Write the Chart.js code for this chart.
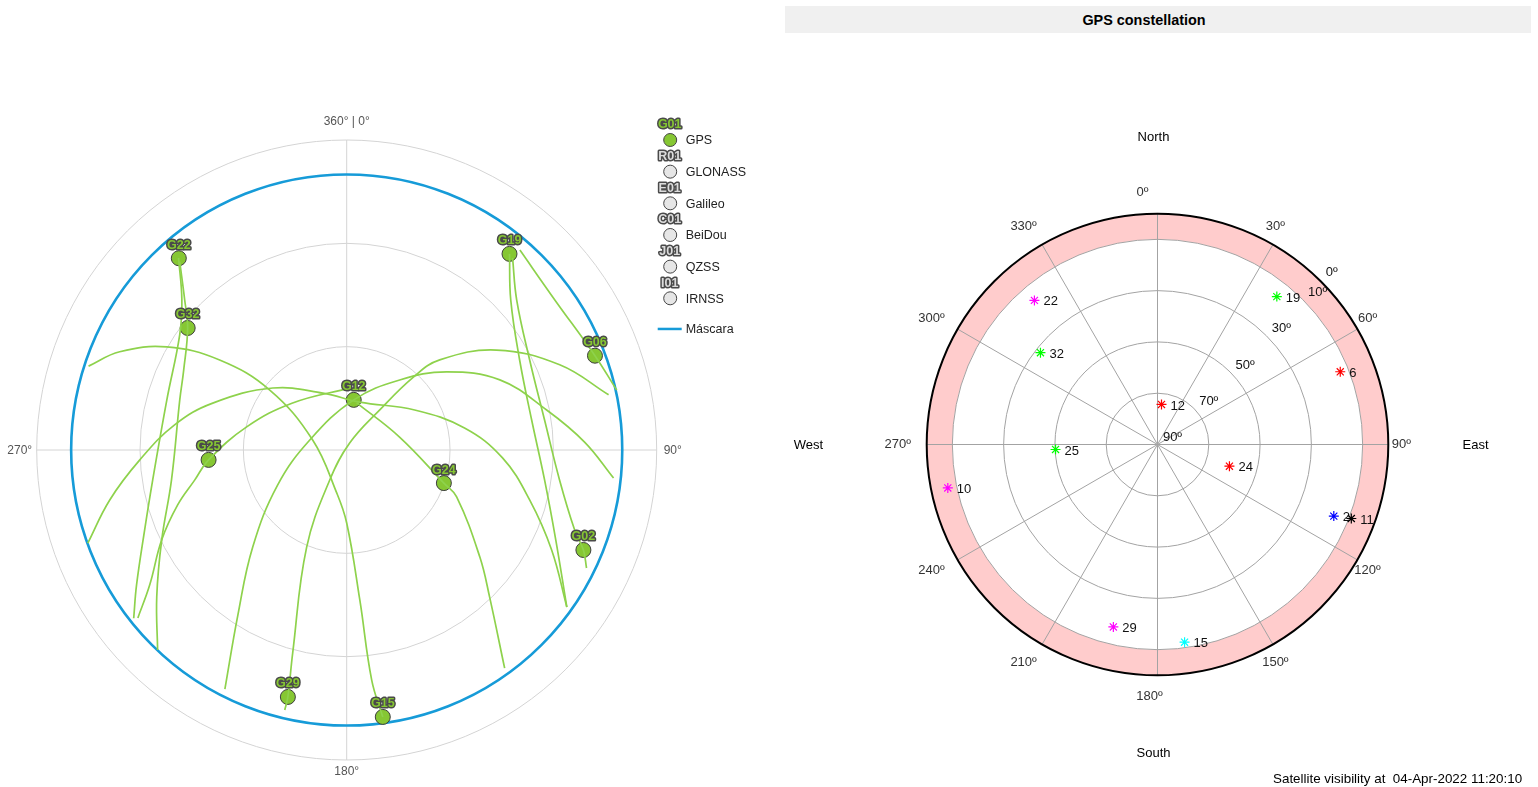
<!DOCTYPE html>
<html>
<head>
<meta charset="utf-8">
<script src="https://cdn.jsdelivr.net/npm/chart.js@4/dist/chart.umd.min.js"></script>
<style>
  html, body { margin: 0; padding: 0; background: #fff; width: 1538px; height: 787px; overflow: hidden;
    font-family: "Liberation Sans", Arial, sans-serif; }
  #skyWrap { position: absolute; left: 0; top: 0; width: 780px; height: 787px; }
  #constWrap { position: absolute; left: 780px; top: 0; width: 758px; height: 787px; }
  #constTitle { position: absolute; left: 785px; top: 6px; width: 718px; padding-right: 28px; height: 27px;
    background: #f0f0f0; font-weight: bold; font-size: 14.4px; line-height: 29px; text-align: center; color: #000; }
  #stamp { position: absolute; left: 1273px; top: 771px; font-size: 13.4px; color: #000; white-space: pre; }
</style>
</head>
<body>
<div id="skyWrap"><canvas id="sky" width="780" height="787"></canvas></div>
<div id="constWrap"><canvas id="constellation" width="758" height="787"></canvas></div>
<div id="constTitle">GPS constellation</div>
<div id="stamp">Satellite visibility at  04-Apr-2022 11:20:10</div>
<script>
// ---------- sky plot (left): current positions, azimuth / elevation in degrees ----------
const skyPrn = ['G22', 'G32', 'G12', 'G25', 'G24', 'G19', 'G06', 'G02', 'G29', 'G15'];
const skyAz  = [318.8, 307.5, 8.0, 265.9, 108.8, 39.7, 69.2, 112.9, 193.4, 172.3];
const skyEl  = [16.0, 31.8, 75.3, 49.8, 60.2, 16.0, 12.9, 15.4, 16.3, 11.8];

// satellite tracks over the visibility window (azimuth / elevation)
const trackG22Az = [318.8, 312.3, 304.6, 285.5, 261.2, 248.4, 237.3, 231.7];
const trackG22El = [15.9, 25.3, 31.1, 35.8, 33.0, 26.9, 17.5, 11.2];
const trackG32Az = [318.4, 312.8, 307.5, 296.1, 286.7, 260.3, 244.1, 232.3, 223.4];
const trackG32El = [17.0, 25.9, 31.8, 37.3, 39.4, 38.4, 30.3, 20.3, 10.1];
const trackG15Az = [288.0, 293.4, 299.8, 305.3, 307.9, 286.4, 193.1, 180.0, 175.0, 173.8, 172.3];
const trackG15El = [11.2, 18.2, 29.8, 44.8, 61.7, 79.7, 77.2, 68.8, 46.3, 22.8, 11.8];
const trackG29Az = [78.1, 68.2, 56.3, 45.9, 42.5, 39.5, 23.0, 209.5, 202.4, 194.9, 193.4, 193.4];
const trackG29El = [12.3, 23.4, 37.7, 52.4, 61.2, 74.9, 87.8, 80.0, 59.5, 29.0, 16.3, 12.4];
const trackG12Az = [207.0, 213.4, 224.1, 243.1, 285.1, 8.0, 37.1, 52.0, 65.4, 78.7, 88.1, 96.0];
const trackG12El = [12.1, 32.6, 50.8, 67.5, 78.9, 75.3, 64.5, 53.2, 41.1, 30.8, 20.9, 12.1];
const trackG24Az = [12.0, 76.2, 108.8, 113.1, 128.8, 135.8, 144.1];
const trackG24El = [76.0, 74.2, 60.2, 55.3, 40.4, 30.5, 11.8];
const trackG25Az = [231.2, 235.6, 244.1, 252.0, 258.8, 265.9, 283.0, 311.0, 2.8];
const trackG25El = [12.2, 20.7, 30.3, 38.4, 45.0, 49.8, 60.2, 69.2, 72.0];
const trackRisingAz = [250.2, 258.1, 267.2, 278.3, 289.3, 310.0, 337.2, 15.2, 59.5, 79.4, 92.9, 105.3, 116.0, 125.5];
const trackRisingEl = [10.1, 19.7, 29.8, 39.5, 48.8, 62.0, 72.1, 75.6, 67.1, 55.2, 44.7, 34.9, 23.8, 11.5];
const trackG19Az = [39.7, 47.6, 62.5, 80.8, 98.6, 113.3, 125.5];
const trackG19El = [16.0, 25.5, 33.4, 35.6, 31.9, 23.9, 11.5];
const trackG02Az = [40.8, 48.6, 63.8, 81.4, 98.0, 109.3, 112.9, 116.2];
const trackG02El = [16.3, 24.2, 30.8, 31.9, 27.6, 19.9, 15.4, 12.4];
const trackG06Az = [40.9, 54.2, 69.2, 77.5];
const trackG06El = [13.2, 15.5, 12.9, 9.7];

const maskElevation = 10;
const skyRings = [0, 30, 60];
const skyAxisAz = [0, 90, 180, 270];
const skyAxisText = ['360° | 0°', '90°', '180°', '270°'];

// legend (constellations)
const legendTags  = ['G01', 'R01', 'E01', 'C01', 'J01', 'I01'];
const legendNames = ['GPS', 'GLONASS', 'Galileo', 'BeiDou', 'QZSS', 'IRNSS'];
const maskLegendText = 'Máscara';

// ---------- constellation plot (right) ----------
const constPrn = [12, 19, 6, 24, 2, 11, 15, 29, 10, 25, 32, 22];
const constAz  = [5.7, 38.9, 68.3, 106.8, 112.1, 110.9, 172.2, 193.6, 258.3, 267.2, 308.1, 319.5];
const constEl  = [74.3, 15.9, 13.3, 60.7, 15.8, 9.1, 12.2, 16.8, 6.5, 50.2, 32.0, 16.1];
const constColor = ['#ff0000', '#00ff00', '#ff0000', '#ff0000', '#0000ff', '#000000',
                    '#00ffff', '#ff00ff', '#ff00ff', '#00ff00', '#00ff00', '#ff00ff'];
const constRings = [10, 30, 50, 70];
const constSpokes = [0, 30, 60, 90, 120, 150, 180, 210, 240, 270, 300, 330];
const constElevLabels = [0, 10, 30, 50, 70, 90];
const compassText = ['North', 'East', 'South', 'West'];
const compassAz = [0, 90, 180, 270];

// ---------- helpers ----------
const DEG = Math.PI / 180;
const FONT = '"Liberation Sans", Arial, sans-serif';
function polarPoint(az, el) {
  const r = 90 - el;
  return { x: r * Math.sin(az * DEG), y: r * Math.cos(az * DEG) };
}
function trackPoints(az, el) { return az.map((a, i) => polarPoint(a, el[i])); }
function polarGeom(chart) {
  const sx = chart.scales.x, sy = chart.scales.y;
  const cx = sx.getPixelForValue(0), cy = sy.getPixelForValue(0);
  return { cx, cy, rad: el => sx.getPixelForValue(90 - el) - cx };
}
function drawTag(ctx, text, x, y, fill) {
  ctx.font = 'bold 12.5px ' + FONT;
  ctx.textAlign = 'center';
  ctx.textBaseline = 'middle';
  ctx.lineJoin = 'round';
  ctx.lineWidth = 3;
  ctx.strokeStyle = '#4a4a4a';
  ctx.strokeText(text, x, y);
  ctx.fillStyle = fill;
  ctx.fillText(text, x, y);
}
const polarScales = {
  x: { type: 'linear', min: -90, max: 90, display: false },
  y: { type: 'linear', min: -90, max: 90, display: false }
};

// ---------- left chart ----------
const TRACK_GREEN = '#8ed24c';
const MARK_GREEN = '#86c733';
const tracks = [
  [trackG22Az, trackG22El], [trackG32Az, trackG32El], [trackG15Az, trackG15El],
  [trackG29Az, trackG29El], [trackG12Az, trackG12El], [trackG24Az, trackG24El],
  [trackG25Az, trackG25El], [trackRisingAz, trackRisingEl], [trackG19Az, trackG19El],
  [trackG02Az, trackG02El], [trackG06Az, trackG06El]
];
const skyDatasets = tracks.map(([az, el]) => ({
  data: trackPoints(az, el),
  showLine: true, borderColor: TRACK_GREEN, borderWidth: 1.7, tension: 0.4,
  pointRadius: 0, fill: false
}));
skyDatasets.push({
  data: trackPoints(skyAz, skyEl),
  showLine: false, pointRadius: 7.5, pointBackgroundColor: MARK_GREEN,
  pointBorderColor: '#3d3d3d', pointBorderWidth: 1
});

const skyDecor = {
  id: 'skyDecor',
  beforeDatasetsDraw(chart) {
    const ctx = chart.ctx;
    const { cx, cy, rad } = polarGeom(chart);
    const R = rad(0);
    ctx.save();
    ctx.strokeStyle = '#d4d4d4';
    ctx.lineWidth = 1;
    skyRings.forEach(el => { ctx.beginPath(); ctx.arc(cx, cy, rad(el), 0, 2 * Math.PI); ctx.stroke(); });
    ctx.beginPath();
    ctx.moveTo(cx, cy - R); ctx.lineTo(cx, cy + R);
    ctx.moveTo(cx - R, cy); ctx.lineTo(cx + R, cy);
    ctx.stroke();
    ctx.strokeStyle = '#169bd8';
    ctx.lineWidth = 2.6;
    ctx.beginPath(); ctx.arc(cx, cy, rad(maskElevation), 0, 2 * Math.PI); ctx.stroke();
    ctx.restore();
  },
  afterDatasetsDraw(chart) {
    const ctx = chart.ctx;
    const { cx, cy, rad } = polarGeom(chart);
    const R = rad(0);
    ctx.save();
    // satellite ids above the markers
    const meta = chart.getDatasetMeta(chart.data.datasets.length - 1);
    meta.data.forEach((pt, i) => drawTag(ctx, skyPrn[i], pt.x, pt.y - 13, MARK_GREEN));
    // azimuth labels
    ctx.font = '12px ' + FONT;
    ctx.fillStyle = '#555';
    ctx.textAlign = 'center';
    ctx.textBaseline = 'middle';
    const gap = [19, 16, 11, 17];
    skyAxisAz.forEach((az, i) => {
      const r = R + gap[i];
      ctx.fillText(skyAxisText[i], cx + r * Math.sin(az * DEG), cy - r * Math.cos(az * DEG) + 1);
    });
    // legend
    const lx = cx + R + 13, ly = 140, step = 31.66;
    legendTags.forEach((tag, i) => {
      const y = ly + i * step;
      drawTag(ctx, tag, lx, y - 15, i === 0 ? MARK_GREEN : '#dcdcdc');
      ctx.beginPath();
      ctx.arc(lx + 0.5, y, 6.5, 0, 2 * Math.PI);
      ctx.fillStyle = i === 0 ? MARK_GREEN : '#e6e6e6';
      ctx.fill();
      ctx.lineWidth = 1;
      ctx.strokeStyle = '#444';
      ctx.stroke();
      ctx.font = '12.5px ' + FONT;
      ctx.fillStyle = '#222';
      ctx.textAlign = 'left';
      ctx.textBaseline = 'middle';
      ctx.fillText(legendNames[i], lx + 16, y + 1);
    });
    const my = ly + 6 * step - 1;
    ctx.strokeStyle = '#169bd8';
    ctx.lineWidth = 2.5;
    ctx.beginPath(); ctx.moveTo(lx - 12, my); ctx.lineTo(lx + 12, my); ctx.stroke();
    ctx.fillStyle = '#222';
    ctx.fillText(maskLegendText, lx + 16, my + 1);
    ctx.restore();
  }
};

new Chart(document.getElementById('sky'), {
  type: 'scatter',
  data: { datasets: skyDatasets },
  options: {
    responsive: false, animation: false, devicePixelRatio: 1,
    layout: { padding: { left: 36.7, right: 123.3, top: 140, bottom: 27 } },
    scales: polarScales,
    plugins: { legend: { display: false }, tooltip: { enabled: false } }
  },
  plugins: [skyDecor]
});

// ---------- right chart ----------
const constDecor = {
  id: 'constDecor',
  beforeDatasetsDraw(chart) {
    const ctx = chart.ctx;
    const { cx, cy, rad } = polarGeom(chart);
    const R = rad(0);
    ctx.save();
    // band below the elevation mask
    ctx.fillStyle = '#ffcccc';
    ctx.beginPath();
    ctx.arc(cx, cy, R, 0, 2 * Math.PI);
    ctx.arc(cx, cy, rad(maskElevation), 0, 2 * Math.PI, true);
    ctx.fill();
    ctx.strokeStyle = '#a3a3a3';
    ctx.lineWidth = 1;
    constRings.forEach(el => { ctx.beginPath(); ctx.arc(cx, cy, rad(el), 0, 2 * Math.PI); ctx.stroke(); });
    ctx.beginPath();
    constSpokes.forEach(az => {
      ctx.moveTo(cx, cy);
      ctx.lineTo(cx + R * Math.sin(az * DEG), cy - R * Math.cos(az * DEG));
    });
    ctx.stroke();
    ctx.strokeStyle = '#000';
    ctx.lineWidth = 2;
    ctx.beginPath(); ctx.arc(cx, cy, R, 0, 2 * Math.PI); ctx.stroke();
    // azimuth labels
    ctx.font = '13px ' + FONT;
    ctx.fillStyle = '#333';
    ctx.textAlign = 'center';
    ctx.textBaseline = 'middle';
    constSpokes.forEach(az => {
      const r = R + 21;
      const dx = az === 0 ? -15 : -8;
      ctx.fillText(az + 'º', cx + r * Math.sin(az * DEG) + dx, cy - r * Math.cos(az * DEG));
    });
    // elevation labels along the 45º radial
    ctx.fillStyle = '#111';
    constElevLabels.forEach(el => {
      const r = rad(el);
      const off = el === 0 ? [11, -9] : [15, -7];
      ctx.fillText(el + 'º', cx + r * Math.sin(45 * DEG) + off[0], cy - r * Math.cos(45 * DEG) + off[1]);
    });
    // compass words
    ctx.fillStyle = '#000';
    const cr = [308, 322, 308, 345];
    compassAz.forEach((az, i) => {
      ctx.fillText(compassText[i], cx + cr[i] * Math.sin(az * DEG) - 4, cy - cr[i] * Math.cos(az * DEG) + 1);
    });
    ctx.restore();
  },
  afterDatasetsDraw(chart) {
    const ctx = chart.ctx;
    const meta = chart.getDatasetMeta(0);
    ctx.save();
    ctx.font = '13px ' + FONT;
    ctx.fillStyle = '#111';
    ctx.textAlign = 'left';
    ctx.textBaseline = 'middle';
    meta.data.forEach((pt, i) => ctx.fillText(String(constPrn[i]), pt.x + 9, pt.y + 1.5));
    ctx.restore();
  }
};

new Chart(document.getElementById('constellation'), {
  type: 'scatter',
  data: {
    datasets: [{
      data: trackPoints(constAz, constEl),
      pointStyle: 'star', pointRadius: 5,
      pointBorderColor: constColor, pointBackgroundColor: constColor, pointBorderWidth: 1.2
    }]
  },
  options: {
    responsive: false, animation: false, devicePixelRatio: 1,
    layout: { padding: { left: 146.7, right: 149.7, top: 213.7, bottom: 111.7 } },
    scales: polarScales,
    plugins: { legend: { display: false }, tooltip: { enabled: false } }
  },
  plugins: [constDecor]
});
</script>
</body>
</html>
